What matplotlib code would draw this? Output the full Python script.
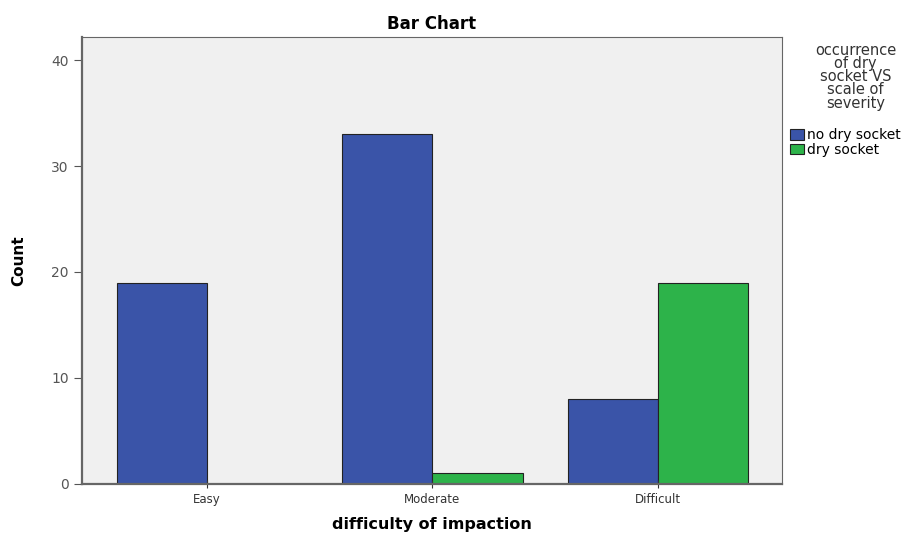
import matplotlib.pyplot as plt
import numpy as np

categories = ['Easy', 'Moderate', 'Difficult']
no_dry = [19, 33, 8]
dry = [0, 1, 19]
series_names = ['no dry socket', 'dry socket']
yticks = [0, 10, 20, 30, 40]

fig = plt.figure(figsize=(9.2, 5.34), dpi=100)
ax = fig.add_axes([0.089, 0.094, 0.761, 0.837])
ax.set_facecolor('#f0f0f0')

x = np.arange(len(categories))
w = 0.4
b1 = ax.bar(x - w / 2, no_dry, w, color='#3a54a8', edgecolor='#222222', linewidth=0.8, label=series_names[0])
b2 = ax.bar(x + w / 2, dry, w, color='#2db34a', edgecolor='#222222', linewidth=0.8, label=series_names[1])

ax.set_xlim(-0.554, 2.55)
ax.set_ylim(0, 42.2)
ax.set_xticks(x)
ax.set_xticklabels(categories, fontsize=8.5, color='#333333')
ax.set_yticks(yticks)
ax.set_yticklabels([str(t) for t in yticks], fontsize=10, color='#555555')
ax.tick_params(axis='y', length=6, color='#555555')
ax.tick_params(axis='x', length=6, color='#333333', direction='inout')
for s in ax.spines.values():
    s.set_color('#666666')
    s.set_linewidth(0.8)
ax.spines['left'].set_linewidth(1.6)
ax.spines['bottom'].set_linewidth(1.6)

ax.set_title('Bar Chart', fontsize=12, fontweight='bold', pad=6)
ax.set_xlabel('difficulty of impaction', fontsize=11.5, fontweight='bold', labelpad=8)
ax.set_ylabel('Count', fontsize=11, fontweight='bold', labelpad=18)

fig.text(0.93, 0.92, 'occurrence\nof dry\nsocket VS\nscale of\nseverity', ha='center', va='top',
         fontsize=10.5, color='#333333', linespacing=0.85)
fig.legend(handles=[b1, b2], loc='upper left', bbox_to_anchor=(0.848, 0.778), frameon=False,
           fontsize=10, handlelength=1.0, handleheight=0.75, handletextpad=0.25,
           labelspacing=0.05, borderpad=0.2)

plt.savefig('out.png', dpi=100)
